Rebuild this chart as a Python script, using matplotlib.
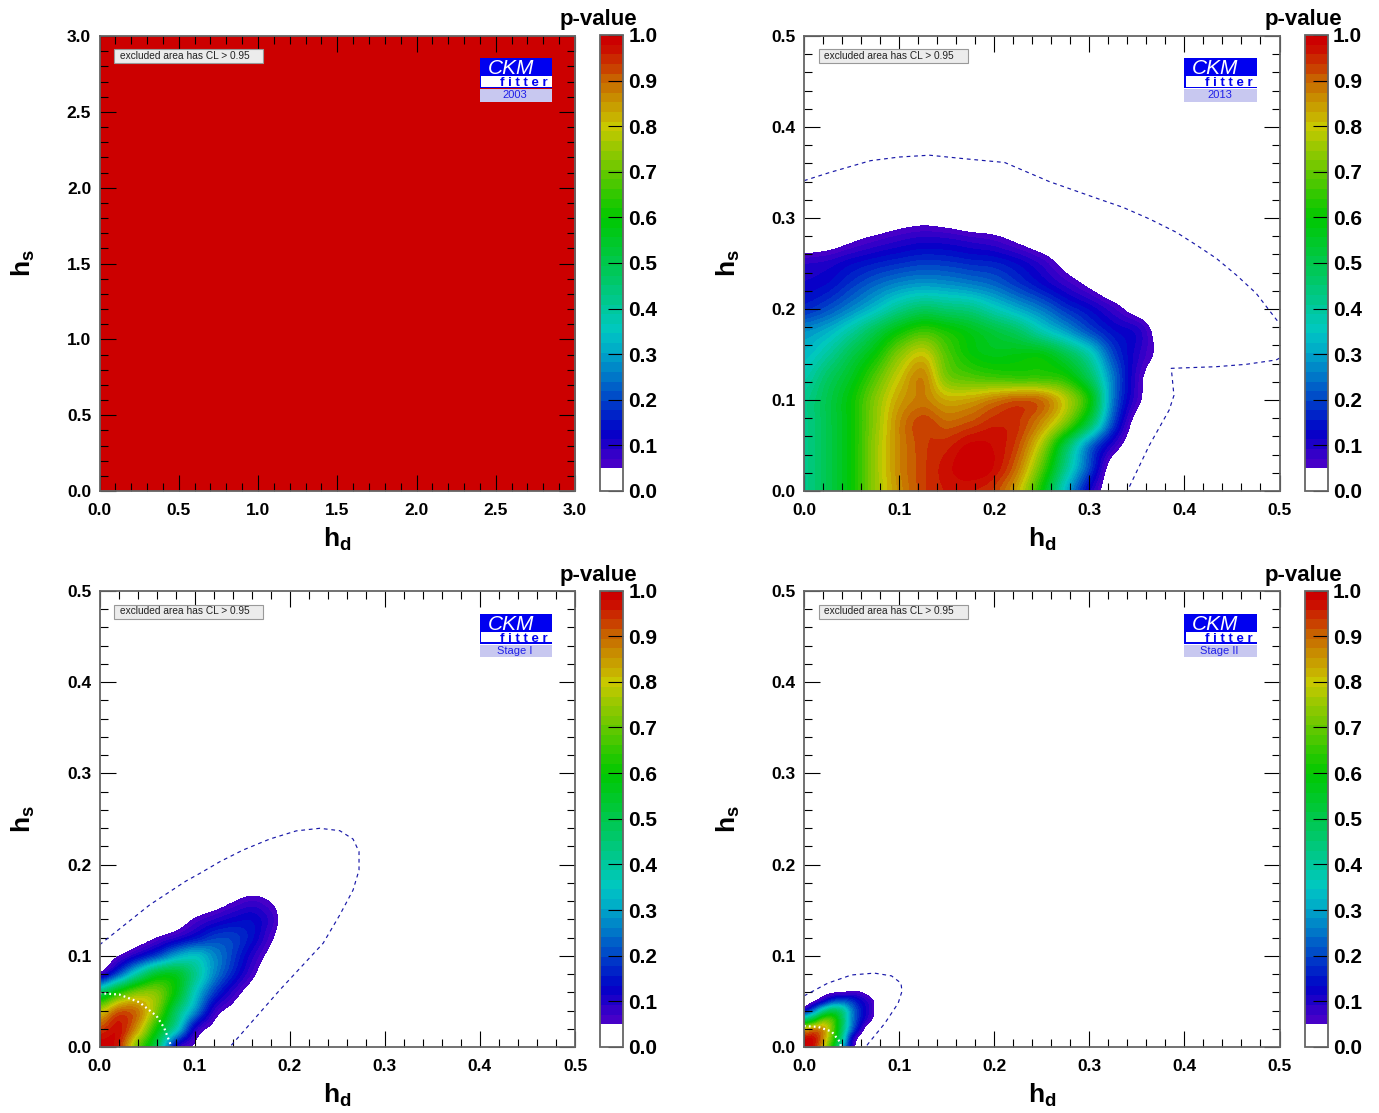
import matplotlib
matplotlib.use('Agg')
import matplotlib.pyplot as plt
from matplotlib.colors import LinearSegmentedColormap, ListedColormap, BoundaryNorm
from matplotlib.patches import Rectangle
import numpy as np

plt.rcParams['font.family'] = ['Liberation Sans', 'DejaVu Sans']
plt.rcParams['mathtext.fontset'] = 'custom'
plt.rcParams['mathtext.bf'] = 'Liberation Sans:bold'
plt.rcParams['mathtext.rm'] = 'Liberation Sans:bold'

# p-value tables, rows go up in hs, columns go right in hd
x_2003 = [0.0, 3.0]
y_2003 = [0.0, 3.0]
p_2003 = [[0.99, 0.99],
          [0.99, 0.99]]

x_2013 = [0.0, 0.025, 0.05, 0.075, 0.1, 0.125, 0.15, 0.175, 0.2, 0.225, 0.25, 0.275, 0.3, 0.325, 0.35, 0.375]
y_2013 = [0.0, 0.025, 0.05, 0.075, 0.1, 0.125, 0.15, 0.175, 0.2, 0.225, 0.25, 0.275, 0.3]
p_2013 = [
    [0.42, 0.50, 0.60, 0.75, 0.86, 0.93, 0.96, 0.96, 0.93, 0.82, 0.60, 0.33, 0.12, 0.00, 0.00, 0.00],
    [0.42, 0.50, 0.60, 0.75, 0.87, 0.93, 0.97, 1.00, 0.975, 0.88, 0.68, 0.42, 0.20, 0.01, 0.00, 0.00],
    [0.42, 0.50, 0.60, 0.75, 0.87, 0.93, 0.95, 0.985, 0.975, 0.92, 0.76, 0.50, 0.25, 0.09, 0.00, 0.00],
    [0.42, 0.50, 0.60, 0.74, 0.87, 0.93, 0.90, 0.92, 0.95, 0.94, 0.86, 0.72, 0.50, 0.20, 0.02, 0.00],
    [0.42, 0.50, 0.60, 0.73, 0.84, 0.88, 0.83, 0.84, 0.88, 0.91, 0.89, 0.78, 0.60, 0.25, 0.07, 0.00],
    [0.38, 0.47, 0.56, 0.68, 0.80, 0.87, 0.72, 0.68, 0.66, 0.65, 0.65, 0.62, 0.48, 0.25, 0.08, 0.00],
    [0.33, 0.40, 0.50, 0.60, 0.73, 0.80, 0.68, 0.60, 0.57, 0.58, 0.58, 0.50, 0.38, 0.20, 0.10, 0.035],
    [0.28, 0.32, 0.40, 0.50, 0.60, 0.66, 0.62, 0.57, 0.52, 0.47, 0.38, 0.30, 0.21, 0.14, 0.105, 0.02],
    [0.17, 0.21, 0.27, 0.34, 0.42, 0.47, 0.45, 0.43, 0.37, 0.31, 0.25, 0.18, 0.13, 0.075, 0.022, 0.00],
    [0.12, 0.14, 0.19, 0.24, 0.28, 0.30, 0.29, 0.27, 0.24, 0.19, 0.14, 0.09, 0.043, 0.00, 0.00, 0.00],
    [0.09, 0.10, 0.13, 0.155, 0.175, 0.19, 0.185, 0.17, 0.16, 0.13, 0.085, 0.03, 0.00, 0.00, 0.00, 0.00],
    [0.00, 0.015, 0.043, 0.068, 0.09, 0.105, 0.10, 0.085, 0.07, 0.04, 0.01, 0.00, 0.00, 0.00, 0.00, 0.00],
    [0.00, 0.00, 0.00, 0.00, 0.02, 0.03, 0.02, 0.00, 0.00, 0.00, 0.00, 0.00, 0.00, 0.00, 0.00, 0.00],
]

x_stage1 = [0.0, 0.02, 0.04, 0.06, 0.08, 0.1, 0.12, 0.14, 0.16, 0.18, 0.2]
y_stage1 = [0.0, 0.02, 0.04, 0.06, 0.08, 0.1, 0.12, 0.14, 0.16, 0.18]
p_stage1 = [
    [1.00, 0.95, 0.70, 0.48, 0.12, 0.04, 0.00, 0.00, 0.00, 0.00, 0.00],
    [0.93, 0.97, 0.84, 0.60, 0.38, 0.11, 0.03, 0.00, 0.00, 0.00, 0.00],
    [0.78, 0.90, 0.88, 0.72, 0.48, 0.28, 0.09, 0.03, 0.00, 0.00, 0.00],
    [0.46, 0.62, 0.72, 0.72, 0.58, 0.36, 0.19, 0.085, 0.02, 0.00, 0.00],
    [0.07, 0.22, 0.40, 0.54, 0.55, 0.42, 0.27, 0.16, 0.066, 0.00, 0.00],
    [0.00, 0.05, 0.12, 0.20, 0.30, 0.34, 0.27, 0.19, 0.10, 0.03, 0.00],
    [0.00, 0.00, 0.015, 0.05, 0.09, 0.14, 0.19, 0.19, 0.14, 0.06, 0.00],
    [0.00, 0.00, 0.00, 0.00, 0.015, 0.055, 0.09, 0.12, 0.13, 0.08, 0.00],
    [0.00, 0.00, 0.00, 0.00, 0.00, 0.00, 0.014, 0.046, 0.07, 0.045, 0.00],
    [0.00, 0.00, 0.00, 0.00, 0.00, 0.00, 0.00, 0.00, 0.00, 0.00, 0.00],
]

x_stage2 = [0.0, 0.01, 0.02, 0.03, 0.04, 0.05, 0.06, 0.07, 0.08, 0.09]
y_stage2 = [0.0, 0.01, 0.02, 0.03, 0.04, 0.05, 0.06, 0.07]
p_stage2 = [
    [1.00, 0.97, 0.83, 0.60, 0.35, 0.10, 0.00, 0.00, 0.00, 0.00],
    [0.97, 0.97, 0.87, 0.67, 0.42, 0.14, 0.02, 0.00, 0.00, 0.00],
    [0.80, 0.86, 0.85, 0.70, 0.47, 0.24, 0.09, 0.00, 0.00, 0.00],
    [0.45, 0.55, 0.68, 0.66, 0.48, 0.27, 0.14, 0.06, 0.00, 0.00],
    [0.12, 0.24, 0.40, 0.48, 0.42, 0.26, 0.15, 0.08, 0.00, 0.00],
    [0.00, 0.05, 0.12, 0.20, 0.22, 0.18, 0.12, 0.07, 0.00, 0.00],
    [0.00, 0.00, 0.02, 0.04, 0.05, 0.058, 0.05, 0.02, 0.00, 0.00],
    [0.00, 0.00, 0.00, 0.00, 0.00, 0.00, 0.00, 0.00, 0.00, 0.00],
]

# dashed and dotted curves
dash_2013_a_x = [0.0, 0.027, 0.07, 0.10, 0.132, 0.17, 0.211, 0.258, 0.311, 0.3354, 0.3634, 0.3915, 0.4125, 0.4335, 0.4545, 0.4755, 0.493, 0.5]
dash_2013_a_y = [0.341, 0.350, 0.363, 0.367, 0.369, 0.365, 0.361, 0.34, 0.3205, 0.3117, 0.2989, 0.2843, 0.2703, 0.2557, 0.2374, 0.2172, 0.1934, 0.184]
dash_2013_b_x = [0.5, 0.4965, 0.465, 0.4335, 0.3862, 0.389, 0.384, 0.363, 0.34]
dash_2013_b_y = [0.146, 0.144, 0.1392, 0.1366, 0.1348, 0.105, 0.089, 0.05, 0.0]
dash_stage1_x = [0.0, 0.053, 0.091, 0.1056, 0.1266, 0.151, 0.179, 0.207, 0.2316, 0.2526, 0.2666, 0.2729, 0.2729, 0.2666, 0.2526, 0.2351, 0.19, 0.137]
dash_stage1_y = [0.112, 0.156, 0.182, 0.1904, 0.2032, 0.216, 0.228, 0.237, 0.2398, 0.2372, 0.228, 0.2142, 0.194, 0.172, 0.1447, 0.1137, 0.063, 0.0]
dash_stage2_x = [0.0, 0.025, 0.05, 0.074, 0.092, 0.102, 0.103, 0.099, 0.085, 0.067, 0.065]
dash_stage2_y = [0.056, 0.07, 0.079, 0.081, 0.078, 0.07, 0.061, 0.048, 0.026, 0.003, 0.0]
dot_stage1_x = [0.0, 0.021, 0.042, 0.06, 0.068, 0.075]
dot_stage1_y = [0.059, 0.0575, 0.049, 0.034, 0.021, 0.002]
dot_stage2_x = [0.0, 0.015, 0.029, 0.0375, 0.039]
dot_stage2_y = [0.023, 0.022, 0.017, 0.006, 0.0]

W, H = 1379, 1113
fig = plt.figure(figsize=(W / 100, H / 100), dpi=100)

levels = np.concatenate([[0.0], np.linspace(0.05, 1.0, 46)])
anchors = [(0.0, (80, 0, 200)), (0.06, (70, 0, 200)), (0.13, (0, 0, 200)), (0.2, (0, 70, 200)),
           (0.3, (0, 165, 200)), (0.35, (0, 200, 195)), (0.48, (0, 200, 90)), (0.6, (0, 200, 0)),
           (0.8, (200, 200, 0)), (0.9, (200, 105, 0)), (0.98, (204, 0, 0)), (1.0, (204, 0, 0))]
rainbow = LinearSegmentedColormap.from_list('pv', [(p, tuple(c / 255 for c in rgb)) for p, rgb in anchors])
# bands take the colour at their mid value
band_colors = ['white'] + [rainbow(0.5 * (levels[i] + levels[i + 1])) for i in range(1, len(levels) - 1)]
band_cmap = ListedColormap(band_colors)
band_cmap.set_under('white')
norm = BoundaryNorm(levels, len(band_colors))


def ax_px(left, top, right, bottom):
    return fig.add_axes([left / W, 1 - bottom / H, (right - left) / W, (bottom - top) / H])


def box_px(x0, y0, x1, y1, **kw):
    fig.patches.append(Rectangle((x0 / W, 1 - y1 / H), (x1 - x0) / W, (y1 - y0) / H,
                                 transform=fig.transFigure, figure=fig, zorder=5, **kw))


def panel(dx, dy, grow, xs, ys, ps, vmax, major, minor, year, curves):
    ax = ax_px(99.5 + dx, 36 + dy - grow, 575 + dx, 491 + dy + grow)
    hx = (xs[1] - xs[0]) / 2
    hy = (ys[1] - ys[0]) / 2
    # catrom keeps the table values at the grid nodes, the norm then cuts the bands
    im = ax.imshow(ps, origin='lower', extent=(xs[0] - hx, xs[-1] + hx, ys[0] - hy, ys[-1] + hy),
                   cmap=band_cmap, norm=norm, aspect='auto', interpolation='catrom',
                   interpolation_stage='data')
    for cx, cy, style in curves:
        if style == 'dash':
            ax.plot(cx, cy, color='#1818a8', lw=0.85, dashes=(3.2, 3.2))
        else:
            ax.plot(cx, cy, color='white', lw=1.6, dashes=(0.8, 1.4))
    ax.set_xlim(0, vmax)
    ax.set_ylim(0, vmax)
    tick_vals = np.arange(0, vmax + 1e-6, major)
    ax.set_xticks(tick_vals)
    ax.set_yticks(tick_vals)
    ax.set_xticks(np.arange(0, vmax + 1e-6, minor), minor=True)
    ax.set_yticks(np.arange(0, vmax + 1e-6, minor), minor=True)
    ax.set_xticklabels(['%.1f' % v for v in tick_vals])
    ax.set_yticklabels(['%.1f' % v for v in tick_vals])
    ax.tick_params(which='major', direction='in', top=True, right=True, length=11.5, width=0.8)
    ax.tick_params(which='minor', direction='in', top=True, right=True, length=5.8, width=0.8)
    ax.tick_params(axis='x', which='major', labelsize=12.5, pad=8.5)
    ax.tick_params(axis='y', which='major', labelsize=12.5, pad=6)
    for lab in ax.get_xticklabels() + ax.get_yticklabels():
        lab.set_fontweight('bold')
    for s in ax.spines.values():
        s.set_color('#666666')
        s.set_linewidth(1.3)
    ax.set_xlabel(r'$\mathbf{h_d}$', fontsize=19, va='top')
    ax.set_ylabel(r'$\mathbf{h_s}$', fontsize=19, va='bottom')
    ax.xaxis.set_label_coords(0.5, -35 / 455)
    ax.yaxis.set_label_coords(-62 / 475, 0.5)

    cax = ax_px(600 + dx, 35 + dy, 623 + dx, 491 + dy + grow)
    cbar = fig.colorbar(im, cax=cax, spacing='proportional')
    cbar.set_ticks(np.arange(0, 1.01, 0.1))
    cbar.set_ticklabels(['%.1f' % v for v in np.arange(0, 1.01, 0.1)])
    cbar.outline.set_edgecolor('#666666')
    cbar.outline.set_linewidth(1.3)
    cax.minorticks_off()
    cax.tick_params(direction='in', length=11, width=0.8, labelsize=15, pad=4, colors='black')
    for lab in cax.get_yticklabels():
        lab.set_fontweight('bold')
    fig.text((598.5 + dx) / W, 1 - (25 + dy) / H, 'p-value', fontsize=16, fontweight='bold',
             ha='center', va='baseline')

    # legend box
    box_px(114 + dx, 49 + dy, 263 + dx, 63 + dy, facecolor='#ececec', edgecolor='#999999', linewidth=0.8)
    fig.text((120 + dx) / W, 1 - (56 + dy) / H, 'excluded area has CL > 0.95', fontsize=7.25,
             color='#222222', ha='left', va='center', zorder=6)

    # logo
    box_px(479.5 + dx, 58 + dy, 552 + dx, 88 + dy, facecolor='#0000f0', edgecolor='none')
    box_px(481 + dx, 76 + dy, 552 + dx, 86.5 + dy, facecolor='white', edgecolor='none')
    box_px(479.5 + dx, 89 + dy, 552 + dx, 101.5 + dy, facecolor='#c8c8f0', edgecolor='none')
    fig.text((511 + dx) / W, 1 - (68.5 + dy) / H, 'CKM', fontsize=15, style='italic', color='white',
             ha='center', va='center', zorder=6)
    fig.text((524 + dx) / W, 1 - (83 + dy) / H, 'f i t t e r', fontsize=9.5, fontweight='bold',
             color='#0000f0', ha='center', va='center', zorder=6)
    fig.text((515 + dx) / W, 1 - (95.5 + dy) / H, year, fontsize=8, color='#2020e8',
             ha='center', va='center', zorder=6)
    return ax


panel(0, 0, 0, x_2003, y_2003, p_2003, 3.0, 0.5, 0.1, '2003', [])
panel(704.5, 0, 0, x_2013, y_2013, p_2013, 0.5, 0.1, 0.02, '2013',
      [(dash_2013_a_x, dash_2013_a_y, 'dash'), (dash_2013_b_x, dash_2013_b_y, 'dash')])
panel(0, 555.5, 0.5, x_stage1, y_stage1, p_stage1, 0.5, 0.1, 0.02, 'Stage I',
      [(dash_stage1_x, dash_stage1_y, 'dash'), (dot_stage1_x, dot_stage1_y, 'dot')])
panel(704.5, 555.5, 0.5, x_stage2, y_stage2, p_stage2, 0.5, 0.1, 0.02, 'Stage II',
      [(dash_stage2_x, dash_stage2_y, 'dash'), (dot_stage2_x, dot_stage2_y, 'dot')])

plt.savefig('out.png', dpi=100)
